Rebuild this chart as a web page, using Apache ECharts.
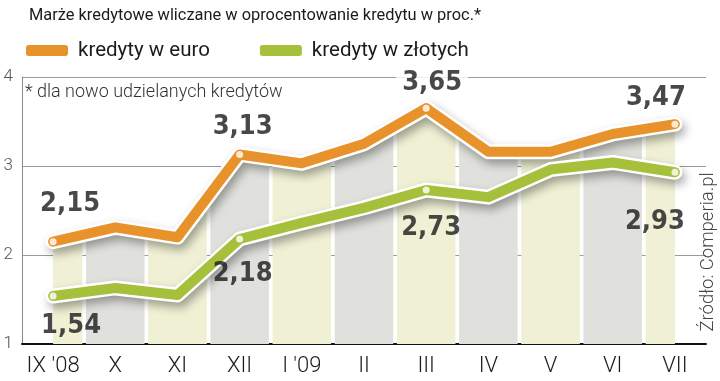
<!DOCTYPE html>
<html><head><meta charset="utf-8">
<script src="https://cdn.jsdelivr.net/npm/echarts@6/dist/echarts.min.js"></script>
<style>html,body{margin:0;padding:0;background:#fff}#c{width:720px;height:381px}</style>
</head><body><div id="c"></div>
<script>
const categories = ["IX '08","X","XI","XII","I '09","II","III","IV","V","VI","VII"];
const euro = [2.15, 2.31, 2.20, 3.13, 3.03, 3.25, 3.65, 3.16, 3.16, 3.36, 3.47];
const zloty = [1.54, 1.63, 1.55, 2.18, 2.36, 2.53, 2.73, 2.65, 2.96, 3.04, 2.93];
const labelIdx = [0, 3, 6, 10];
const euroLabelOffsets = [[17,-38],[3,-27],[6,-25],[-19,-26]];
const zlotyLabelOffsets = [[18,30],[3,35],[5,38],[-20,50]];
const yTicks = [1,2,3,4];

const fmt = v => v.toFixed(2).replace('.', ',');
const ORANGE = '#e8922b', GREEN = '#a6c03c';
const bandColors = ['#eff0d4', '#e0e1dc'];
const numFont = "'DejaVu Sans Condensed','DejaVu Sans',sans-serif";

function dots(vals, offs) {
  return labelIdx.map((i, k) => ({
    value: [i, vals[i]],
    label: { offset: offs[k] }
  }));
}

const chart = echarts.init(document.getElementById('c'), null, {renderer: 'canvas'});
chart.setOption({
  animation: false,
  title: {
    text: 'Marże kredytowe wliczane w oprocentowanie kredytu w proc.*',
    left: 24, top: 3,
    textStyle: { fontFamily: 'Roboto', fontSize: 16.4, fontWeight: 'normal', color: '#1b1b1b' }
  },
  legend: {
    data: ['kredyty w euro', 'kredyty w złotych'],
    left: 21, top: 35,
    icon: 'roundRect', itemWidth: 42, itemHeight: 11, itemGap: 50,
    textStyle: { fontFamily: 'Roboto', fontSize: 20.5, color: '#1b1b1b', padding: [0,0,0,5] }
  },
  grid: { left: 22, right: 14, top: 77, bottom: 37, containLabel: false },
  xAxis: {
    type: 'category', data: categories, boundaryGap: true,
    axisTick: { show: false },
    axisLine: { lineStyle: { color: '#111', width: 2 } },
    axisLabel: { interval: 0, fontFamily: 'Roboto', fontWeight: 300, fontSize: 22, color: '#1b1b1b', margin: 11 },
    splitLine: { show: false }
  },
  yAxis: {
    type: 'value', min: 1, max: 4, interval: 1,
    axisLine: { show: true, lineStyle: { color: '#8a8a8a', width: 1 } },
    axisTick: { show: false },
    axisLabel: { fontFamily: 'Roboto', fontWeight: 300, fontSize: 17, color: '#555', margin: 9,
      padding: [10,0,0,0],
      formatter: v => yTicks.includes(v) ? String(v) : '' },
    splitLine: { show: true, lineStyle: { color: '#9a9a9a', width: 1 } }
  },
  graphic: [
    { type: 'text', left: 25, top: 83, z: 10,
      style: { text: '* dla nowo udzielanych kredytów', fontFamily: 'Roboto', fontWeight: 300, fontSize: 18, fill: '#333' } },
    { type: 'text', x: 708, y: 252, rotation: Math.PI / 2, z: 10,
      style: { text: 'Źródło: Comperia.pl', fontFamily: 'Roboto', fontWeight: 300, fontSize: 18.5, fill: '#444',
        align: 'center', verticalAlign: 'middle' } }
  ],
  series: [
    {
      type: 'custom', name: 'bands', z: 1, silent: true,
      data: euro.map((v, i) => [i, v]),
      renderItem: function (params, api) {
        const i = api.value(0);
        const n = euro.length;
        const p = api.coord([i, euro[i]]);
        const base = api.coord([i, 1])[1];
        const gap = 1.8;
        const pts = [];
        let left, right;
        if (i > 0) {
          const q = api.coord([i - 1, euro[i - 1]]);
          left = [(q[0] + p[0]) / 2 + gap, (q[1] + p[1]) / 2];
        } else left = [p[0], p[1]];
        if (i < n - 1) {
          const r = api.coord([i + 1, euro[i + 1]]);
          right = [(r[0] + p[0]) / 2 - gap, (r[1] + p[1]) / 2];
        } else right = [p[0], p[1]];
        pts.push([left[0], base], left, [p[0], p[1]], right, [right[0], base]);
        return { type: 'polygon', shape: { points: pts },
          style: { fill: bandColors[i % 2] } };
      }
    },
    {
      type: 'line', name: 'euroOutline', data: euro, z: 2, symbol: 'none', silent: true,
      lineStyle: { color: '#fff', width: 15, join: 'round', cap: 'round',
        shadowColor: 'rgba(0,0,0,0.35)', shadowBlur: 10, shadowOffsetX: 3, shadowOffsetY: 5 }
    },
    {
      type: 'line', name: 'kredyty w euro', data: euro, z: 3, symbol: 'none', silent: true,
      itemStyle: { color: ORANGE },
      lineStyle: { color: ORANGE, width: 10, join: 'round', cap: 'round' }
    },
    {
      type: 'line', name: 'zlotyOutline', data: zloty, z: 4, symbol: 'none', silent: true,
      lineStyle: { color: '#fff', width: 15, join: 'round', cap: 'round',
        shadowColor: 'rgba(0,0,0,0.35)', shadowBlur: 10, shadowOffsetX: 3, shadowOffsetY: 5 }
    },
    {
      type: 'line', name: 'kredyty w złotych', data: zloty, z: 5, symbol: 'none', silent: true,
      itemStyle: { color: GREEN },
      lineStyle: { color: GREEN, width: 10, join: 'round', cap: 'round' }
    },
    {
      type: 'scatter', name: 'euroDots', z: 6, symbol: 'circle', symbolSize: 7,
      itemStyle: { color: '#fff' },
      label: { show: true, position: 'inside', formatter: p => fmt(p.value[1]),
        fontFamily: numFont, fontWeight: 'bold', fontSize: 27, color: '#1a1a1a',
        backgroundColor: '#fff', padding: [0, 6] },
      data: dots(euro, euroLabelOffsets)
    },
    {
      type: 'scatter', name: 'zlotyDots', z: 6, symbol: 'circle', symbolSize: 7,
      itemStyle: { color: '#fff' },
      label: { show: true, position: 'inside', formatter: p => fmt(p.value[1]),
        fontFamily: numFont, fontWeight: 'bold', fontSize: 27, color: '#1a1a1a' },
      data: dots(zloty, zlotyLabelOffsets)
    }
  ]
});
</script></body></html>
